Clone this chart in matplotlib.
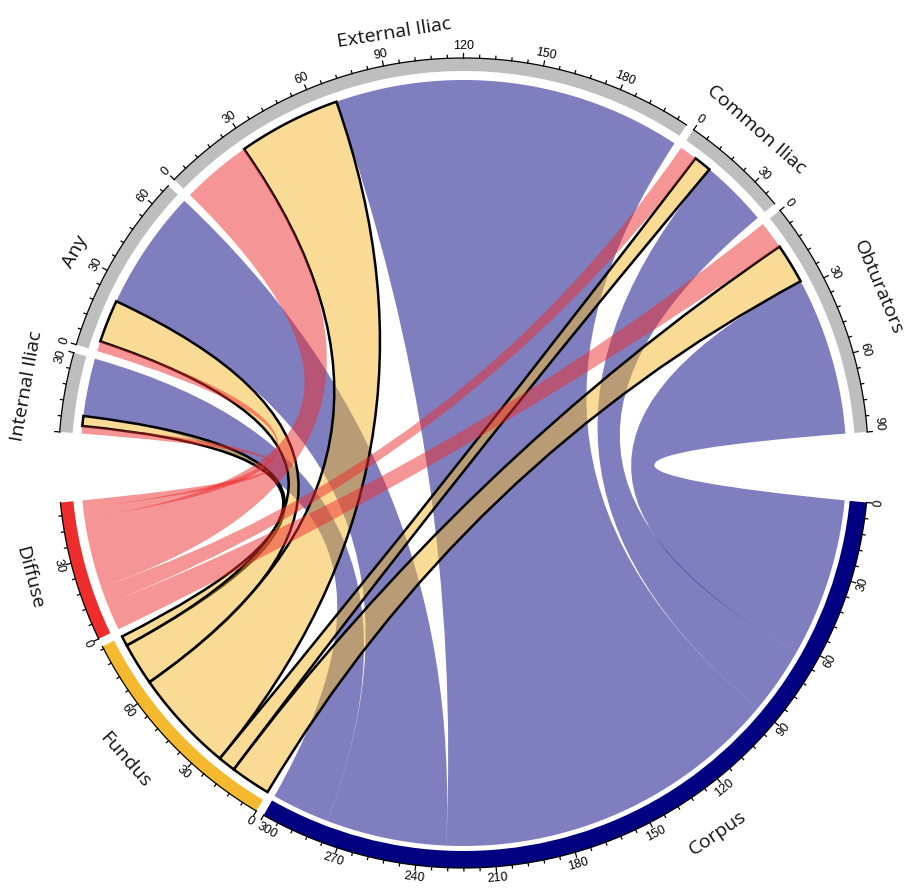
import numpy as np
import matplotlib
matplotlib.use("Agg")
import matplotlib.pyplot as plt
from matplotlib.path import Path
from matplotlib.patches import PathPatch, Wedge

# ---------------- data ----------------
top_sectors = ["Internal Iliac", "Any", "External Iliac", "Common Iliac", "Obturators"]
bottom_sectors = ["Corpus", "Fundus", "Diffuse"]
# link widths from each top sector to the bottom sectors
to_diffuse = [3, 4, 28, 7, 11]
to_fundus = [4, 17, 41, 7, 16]
to_corpus = [23, 48, 139, 27, 63]
major_step = 30
minor_step = 6

# ---------------- style ----------------
bottom_colors = {"Corpus": "#000080", "Fundus": "#F4B92E", "Diffuse": "#EE2C2C"}
grey = "#BEBEBE"
R_OUT = 405
R_IN = 392
R_IN_CORPUS = 388
R_LINK = 383
BIG_GAP = 10.0
SMALL_GAP = 1.2
START = -5.6

links = {}
for i, t in enumerate(top_sectors):
    links[(t, "Diffuse")] = to_diffuse[i]
    links[(t, "Fundus")] = to_fundus[i]
    links[(t, "Corpus")] = to_corpus[i]

sizes = {}
for b in bottom_sectors:
    sizes[b] = sum(links[(t, b)] for t in top_sectors)
for t in top_sectors:
    sizes[t] = sum(links[(t, b)] for b in bottom_sectors)

order = bottom_sectors + top_sectors  # clockwise
total = sum(sizes.values())
u = (360 - 2 * BIG_GAP - 6 * SMALL_GAP) / total

start_angle = {}
a = START
for k, s in enumerate(order):
    start_angle[s] = a
    a = a - sizes[s] * u
    if s == "Diffuse" or k == len(order) - 1:
        a -= BIG_GAP
    else:
        a -= SMALL_GAP


def ang(s, x):
    return start_angle[s] - x * u


# positions of link ends inside sectors
pos = {}
for t in top_sectors:
    off = 0
    for b in ["Diffuse", "Fundus", "Corpus"]:
        w = links[(t, b)]
        pos[(t, b, "top")] = (off, off + w)
        off += w
for b in bottom_sectors:
    off = 0
    for t in reversed(top_sectors):
        w = links[(t, b)]
        pos[(t, b, "bot")] = (off, off + w)
        off += w

fig = plt.figure(figsize=(9.11, 8.91), dpi=100)
ax = fig.add_axes([0, 0, 1, 1])
cx, cy = 463.5, 463
ax.set_xlim(-cx, 911 - cx)
ax.set_ylim(-(891 - cy), cy)
ax.set_aspect("equal")
ax.axis("off")


def pt(r, deg):
    t = np.deg2rad(deg)
    return (r * np.cos(t), r * np.sin(t))


def arc(r, d1, d2, n=60):
    ds = np.linspace(d1, d2, n)
    return [pt(r, d) for d in ds]


def link_path(a1, a2, b1, b2):
    verts, codes = [], []
    pa = arc(R_LINK, a1, a2)
    verts += pa
    codes += [Path.MOVETO] + [Path.LINETO] * (len(pa) - 1)
    verts += [(0, 0), pt(R_LINK, b1)]
    codes += [Path.CURVE3, Path.CURVE3]
    pb = arc(R_LINK, b1, b2)[1:]
    verts += pb
    codes += [Path.LINETO] * len(pb)
    verts += [(0, 0), pt(R_LINK, a1), (0, 0)]
    codes += [Path.CURVE3, Path.CURVE3, Path.CLOSEPOLY]
    return Path(verts, codes)


def draw_links(b, z):
    for t in top_sectors:
        w = links[(t, b)]
        if w <= 0:
            continue
        x1, x2 = pos[(t, b, "top")]
        y1, y2 = pos[(t, b, "bot")]
        p = link_path(ang(t, x1), ang(t, x2), ang(b, y1), ang(b, y2))
        fc = matplotlib.colors.to_rgba(bottom_colors[b], 0.5)
        if b == "Fundus":
            patch = PathPatch(p, facecolor=fc, edgecolor="black", lw=1.8, zorder=z)
        else:
            patch = PathPatch(p, facecolor=fc, edgecolor="none", lw=0, zorder=z)
        ax.add_patch(patch)


draw_links("Corpus", 1)
draw_links("Fundus", 2)
draw_links("Diffuse", 3)

# sector rings, axes and ticks
tick_font = dict(family=["Liberation Sans", "DejaVu Sans"], fontsize=9, color="black")
skip_labels = {("Internal Iliac", 0)}
for s in order:
    a_start = start_angle[s]
    a_end = ang(s, sizes[s])
    col = bottom_colors.get(s, grey)
    r_in = R_IN_CORPUS if s == "Corpus" else R_IN
    ax.add_patch(Wedge((0, 0), R_OUT, a_end, a_start, width=R_OUT - r_in,
                       facecolor=col, edgecolor="none", zorder=5))
    xs, ys = zip(*arc(R_OUT, a_start, a_end, 100))
    ax.plot(xs, ys, color="black", lw=0.9, zorder=6)
    for x in range(0, sizes[s] + 1, minor_step):
        d = ang(s, x)
        major = x % major_step == 0
        L = 5 if major else 3
        p0, p1 = pt(R_OUT, d), pt(R_OUT + L, d)
        ax.plot([p0[0], p1[0]], [p0[1], p1[1]], color="black", lw=0.9, zorder=6)
        if major and (s, x) not in skip_labels:
            dn = (d + 180) % 360 - 180
            at_end = x == sizes[s]
            if dn >= 0:
                rot, va = dn - 90, "bottom"
                ha = "right" if at_end else "center"
            else:
                rot, va = dn + 90, "top"
                ha = "left" if at_end else "center"
            lp = pt(R_OUT + 6, d)
            ax.text(lp[0], lp[1], str(x), rotation=rot, rotation_mode="anchor",
                    ha=ha, va=va, zorder=7, **tick_font)

# sector names
name_pos = {
    "External Iliac": (99.1, 436),
    "Common Iliac": (48.8, 444),
    "Obturators": (23.0, 450),
    "Corpus": (-55.6, 449),
    "Fundus": (-138.7, 450),
    "Diffuse": (-165.2, 449),
    "Internal Iliac": (170.0, 443),
    "Any": (151.5, 442),
}
for s, (d, r) in name_pos.items():
    rot = d - 90 if d >= 0 else d + 90
    p = pt(r, d)
    ax.text(p[0], p[1], s, rotation=rot, rotation_mode="anchor", ha="center", va="center",
            family=["Open Sans", "DejaVu Sans"], fontsize=14, color="#111111", zorder=7)

fig.savefig("out.png", dpi=100)
